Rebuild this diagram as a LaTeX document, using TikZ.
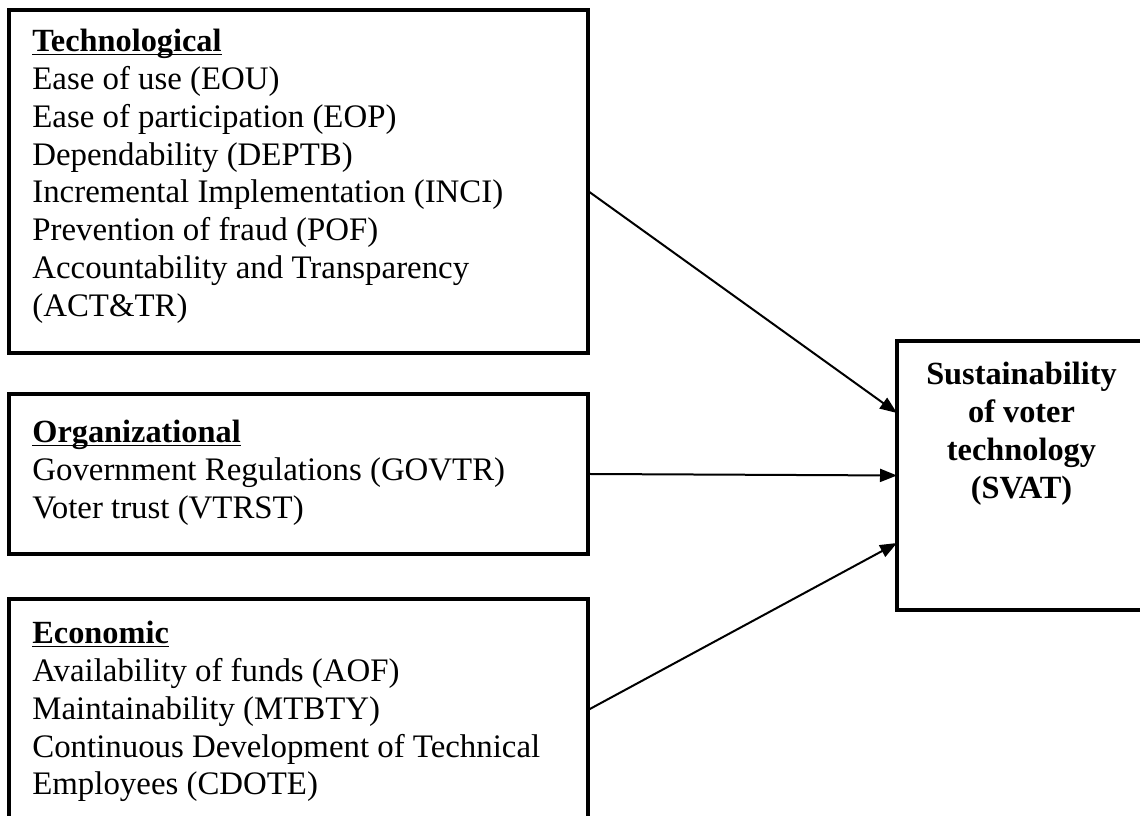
\documentclass[tikz,border=0pt]{standalone}
\usepackage{fontspec}
\setmainfont{Liberation Serif}
\usetikzlibrary{arrows.meta, calc}

\newcommand{\headline}[1]{\underline{\raisebox{0pt}[\height][0pt]{\fontsize{18.4}{21.5}\selectfont\bfseries #1}}}

\tikzset{
	factor/.style={draw, line width=0.08cm, inner sep=0pt, outer sep=0pt, anchor=north west, minimum width=11.58cm},
	items/.style={anchor=north west, inner sep=0pt, align=left, font=\fontsize{18.7}{21.5}\selectfont},
	link/.style={line width=0.04cm, -{Triangle[length=0.34cm, width=0.26cm]}}
}

\begin{document}
\begin{tikzpicture}
	\useasboundingbox (0,0) rectangle (22.8,16.32);

	% factor boxes
	\node[factor, minimum height=6.86cm] (tech) at (0.18,16.12) {};
	\node[factor, minimum height=3.2cm] (org) at (0.18,8.44) {};
	\node[factor, minimum height=4.44cm] (eco) at (0.18,-0.1) [anchor=south west] {};
	\node[draw, line width=0.08cm, inner sep=0pt, outer sep=0pt, anchor=north west, minimum width=4.98cm, minimum height=5.38cm] (svat) at (17.94,9.50) {};

	% texts
	\node[items] (techtext) at (0.64,15.74) {\headline{Technological}\\
		Ease of use (EOU)\\
		Ease of participation (EOP)\\
		Dependability (DEPTB)\\
		Incremental Implementation (INCI)\\
		Prevention of fraud (POF)\\
		Accountability and Transparency\\
		(ACT\&TR)};
	\node[items] (orgtext) at (0.64,7.92) {\headline{Organizational}\\
		Government Regulations (GOVTR)\\
		Voter trust (VTRST)};
	\node[items] (ecotext) at (0.64,3.90) {\headline{Economic}\\
		Availability of funds (AOF)\\
		Maintainability (MTBTY)\\
		Continuous Development of Technical\\
		Employees (CDOTE)};
	\node[items, anchor=north, align=center, font=\fontsize{18.4}{21.5}\selectfont\bfseries] (svattext) at (20.43,9.08) {Sustainability\\of voter\\technology\\(SVAT)};

	% links
	\draw[link] ([yshift=-0.19cm]tech.east) -- ([yshift=1.25cm]svat.west);
	\draw[link] (org.east) -- (svat.west);
	\draw[link] (eco.east) -- ([yshift=-1.35cm]svat.west);
\end{tikzpicture}
\end{document}
